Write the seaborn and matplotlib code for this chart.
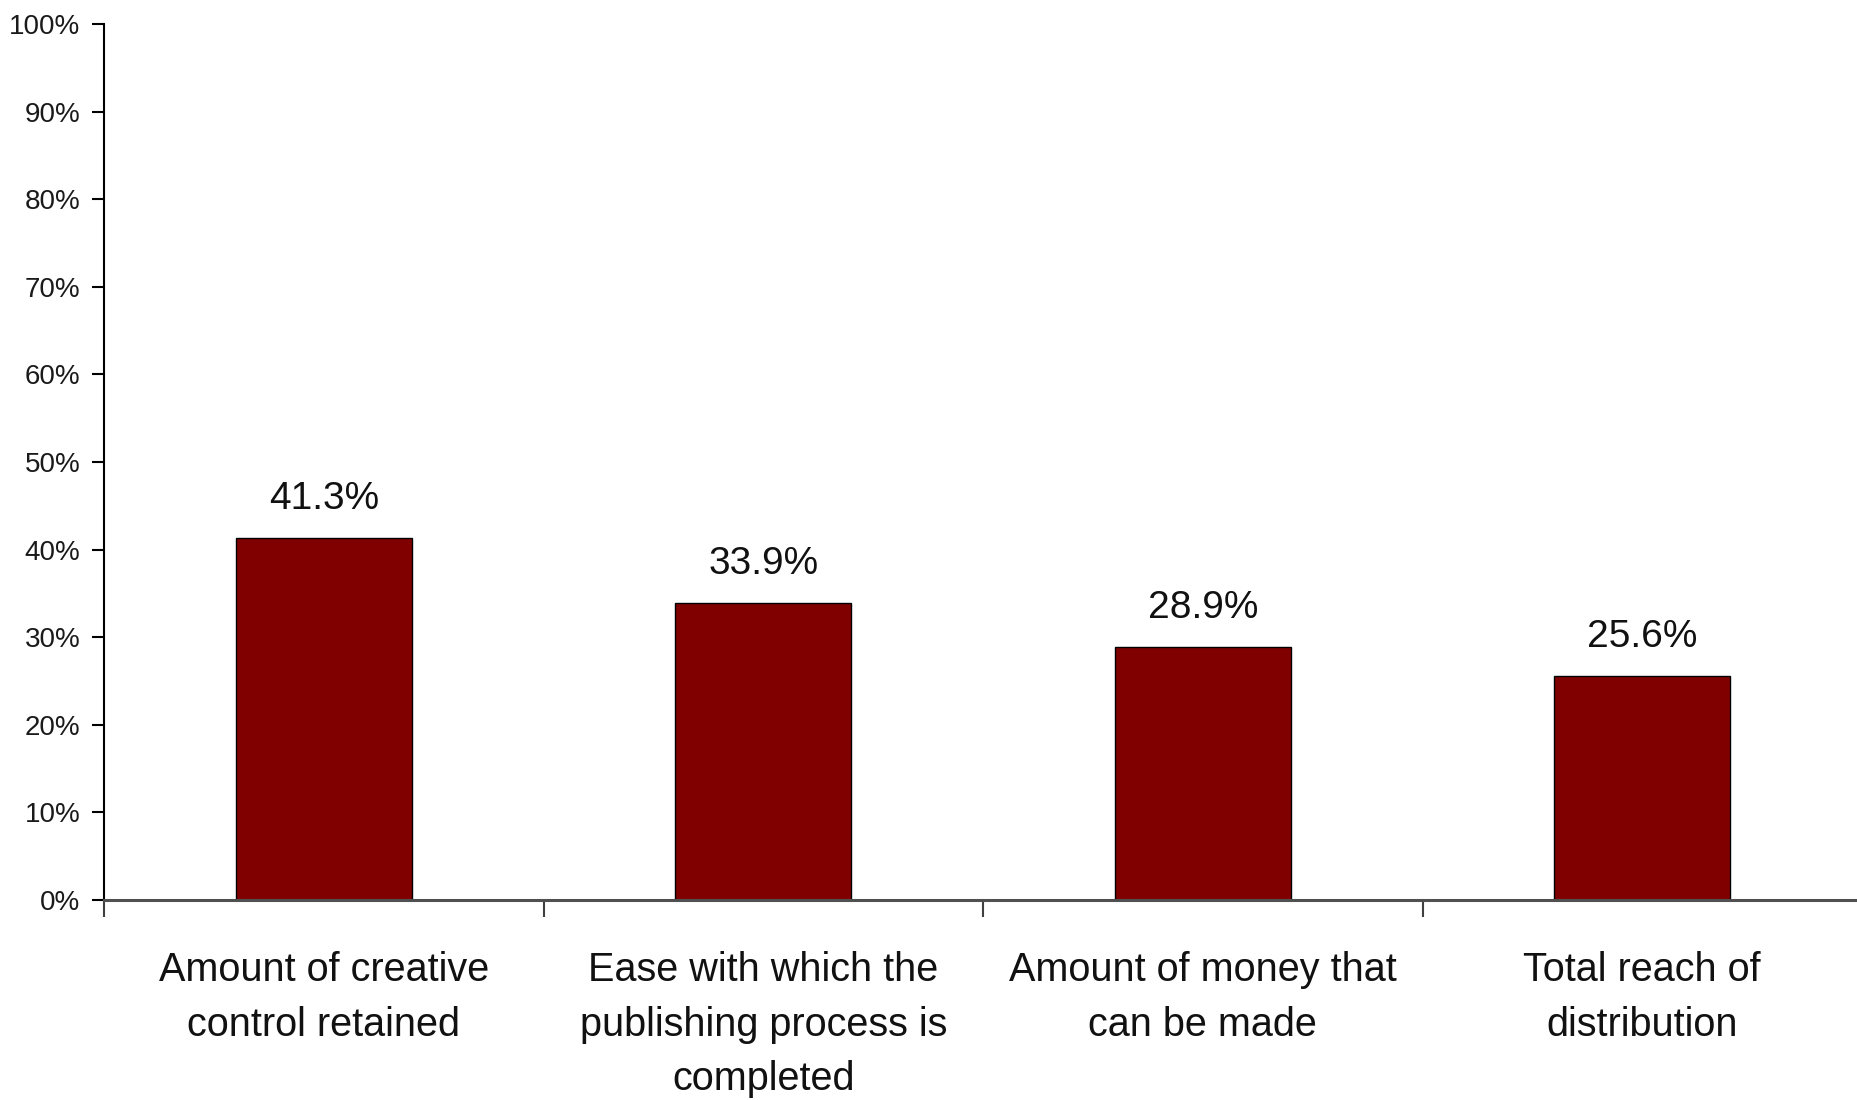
import matplotlib
matplotlib.use("Agg")
import matplotlib.pyplot as plt
import seaborn as sns
import pandas as pd

categories = [
    "Amount of creative\ncontrol retained",
    "Ease with which the\npublishing process is\ncompleted",
    "Amount of money that\ncan be made",
    "Total reach of\ndistribution",
]
values = [41.3, 33.9, 28.9, 25.6]
y_ticks = [0, 10, 20, 30, 40, 50, 60, 70, 80, 90, 100]
y_tick_labels = [f"{t}%" for t in y_ticks]

sns.set_style("white")
plt.rcParams["font.family"] = ["Liberation Sans", "DejaVu Sans"]

df = pd.DataFrame({"category": categories, "value": values})

fig = plt.figure(figsize=(18.57, 11.0), dpi=100)
ax = fig.add_axes([104 / 1857, 200 / 1100, 1758 / 1857, 876 / 1100])

sns.barplot(data=df, x="category", y="value", color="#800000", width=0.4,
            edgecolor="black", linewidth=1.0, saturation=1, ax=ax)

ax.set_xlim(-0.5, 3.5)
ax.set_ylim(0, 100)
ax.set_xlabel("")
ax.set_ylabel("")

# y axis: percent ticks pointing outward
ax.set_yticks(y_ticks)
ax.set_yticklabels(y_tick_labels, fontsize=20, color="#1a1a1a")
ax.tick_params(axis="y", which="major", direction="out", length=9, width=1.5,
               color="black", pad=8, left=True)

# x axis: category labels centred on bars, tick marks between categories
ax.set_xticks(range(len(categories)))
ax.set_xticklabels(categories, fontsize=28.5, linespacing=1.55, color="#111111")
ax.tick_params(axis="x", which="major", length=0, pad=37)
ax.set_xticks([-0.5, 0.5, 1.5, 2.5], minor=True)
ax.tick_params(axis="x", which="minor", direction="out", length=12, width=1.5,
               color="#404040", bottom=True)

for side in ["top", "right"]:
    ax.spines[side].set_visible(False)
ax.spines["left"].set_color("black")
ax.spines["left"].set_linewidth(1.5)
ax.spines["bottom"].set_color("#505050")
ax.spines["bottom"].set_linewidth(2.2)
ax.grid(False)

ax.bar_label(ax.containers[0], labels=[f"{v:.1f}%" for v in values],
             padding=15, fontsize=28, color="#111111")

fig.savefig("out.png", dpi=100, facecolor="white")
